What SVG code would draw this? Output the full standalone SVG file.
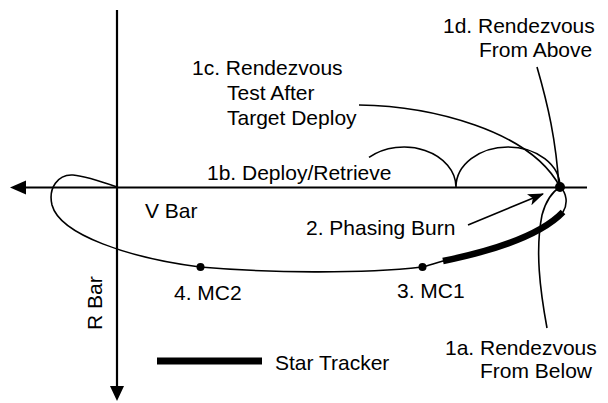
<svg xmlns="http://www.w3.org/2000/svg" width="608" height="403" viewBox="0 0 608 403">
<style>
text{font-family:"Liberation Sans",Arial,sans-serif;font-size:21px;fill:#000}
.thin{fill:none;stroke:#000;stroke-width:1.6}
.axis{fill:none;stroke:#000;stroke-width:2.2}
.thick{fill:none;stroke:#000;stroke-width:6.5}
</style>
<defs>
<marker id="ah" viewBox="0 0 16 12" refX="15" refY="6" markerWidth="16" markerHeight="12" markerUnits="userSpaceOnUse" orient="auto">
<path d="M0,0 L16,6 L0,12 L4,6 Z" fill="#000"/>
</marker>
</defs>
<g id="axes">
<line class="axis" x1="24" y1="187.5" x2="587" y2="187.5"/>
<polygon points="10,187.5 26,180.5 26,194.5" fill="#000"/>
<line class="axis" x1="117" y1="10" x2="117" y2="388"/>
<polygon points="117,401 110,386 124,386" fill="#000"/>
</g>
<g id="connectors">
<path class="thin" d="M560,187 C567,193 568,204 563,212 C540,236 492,251 443,261 C435,263 428,266 422,267 C360,274 270,273 200,267 C130,258 60,235 52,205 C48,188 58,174 73,175 C85,176 100,181 117,187"/>
<path class="thick" d="M563,212 C540,236 492,251 443,261"/>
<path class="thin" d="M369,157.4 A52,40 0 0 1 456,187 A52,40 0 0 1 560,187"/>
<path class="thin" d="M359,105 C430,106 530,130 560,187"/>
<path class="thin" d="M537,67 C548,105 556,140 559,187"/>
<path class="thin" d="M547,328 C540,290 535,250 542,215 C546,200 552,192 560,187"/>
<line class="thin" x1="468" y1="225" x2="543" y2="194" stroke-width="2" marker-end="url(#ah)"/>
</g>
<g id="target"><circle cx="560" cy="187" r="5" fill="#000"/></g>
<g id="mc1"><circle cx="422.5" cy="267" r="4" fill="#000"/><text x="397" y="298">3. MC1</text></g>
<g id="mc2"><circle cx="200.5" cy="267" r="4" fill="#000"/><text x="174" y="300">4. MC2</text></g>
<g id="label-1a"><text x="445" y="355">1a. Rendezvous</text><text x="480" y="378">From Below</text></g>
<g id="label-1b"><text x="207" y="180">1b. Deploy/Retrieve</text></g>
<g id="label-1c"><text x="192" y="75">1c. Rendezvous</text><text x="227" y="100">Test After</text><text x="227" y="125">Target Deploy</text></g>
<g id="label-1d"><text x="443" y="33">1d. Rendezvous</text><text x="479" y="57">From Above</text></g>
<g id="label-2"><text x="306" y="235">2. Phasing Burn</text></g>
<g id="label-vbar"><text x="145" y="218">V Bar</text></g>
<g id="label-rbar"><text transform="translate(102,330) rotate(-90)">R Bar</text></g>
<g id="legend"><line x1="157" y1="361" x2="262" y2="361" stroke="#000" stroke-width="7"/><text x="275" y="370">Star Tracker</text></g>
</svg>
